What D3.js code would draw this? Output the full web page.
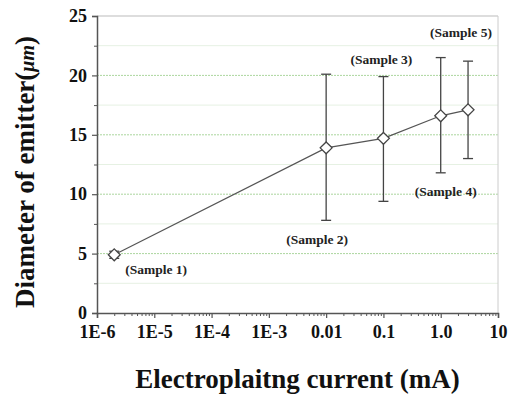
<!DOCTYPE html>
<html>
<head>
<meta charset="utf-8">
<script src="https://cdn.jsdelivr.net/npm/d3@7"></script>
<style>
  body { margin: 0; background: #fff; }
  text { font-family: "Liberation Serif", "Times New Roman", serif; font-weight: bold; }
</style>
</head>
<body>
<div id="chart"></div>
<script>
// data
const current = [2e-6, 0.01, 0.1, 1.0, 3.0];
const diameter = [4.9, 13.9, 14.7, 16.6, 17.1];
const errLow = [4.6, 7.8, 9.4, 11.8, 13.0];
const errHigh = [5.2, 20.1, 19.9, 21.5, 21.2];
const sampleNames = ["(Sample 1)", "(Sample 2)", "(Sample 3)", "(Sample 4)", "(Sample 5)"];
// label baselines in data units
const labelY = [3.3, 5.8, 21.0, 9.85, 23.2];
const labelDx = [11, -9, -2, 5, -7];
const xTicks = [1e-6, 1e-5, 1e-4, 1e-3, 0.01, 0.1, 1, 10];
const xTickLabels = ["1E-6", "1E-5", "1E-4", "1E-3", "0.01", "0.1", "1.0", "10"];
const yTicks = [0, 5, 10, 15, 20, 25];

const W = 510, H = 394;
const margin = { top: 16, right: 12, bottom: 81, left: 97 };
const width = W - margin.left - margin.right;
const height = H - margin.top - margin.bottom;

const svg = d3.select("#chart").append("svg")
  .attr("width", W).attr("height", H);

const g = svg.append("g")
  .attr("transform", "translate(" + margin.left + "," + margin.top + ")");

const x = d3.scaleLog().domain([1e-6, 10]).range([0, width]);
const y = d3.scaleLinear().domain([0, 25]).range([height, 0]);

// minor grid (faint)
g.selectAll(".minorgrid")
  .data(d3.range(2.5, 25, 5))
  .enter().append("line")
  .attr("x1", 0).attr("x2", width)
  .attr("y1", d => y(d)).attr("y2", d => y(d))
  .attr("stroke", "#e6f1e3").attr("stroke-width", 1);

// major grid (green dotted)
g.selectAll(".majorgrid")
  .data([5, 10, 15, 20])
  .enter().append("line")
  .attr("x1", 0).attr("x2", width)
  .attr("y1", d => y(d)).attr("y2", d => y(d))
  .attr("stroke", "#acd69e").attr("stroke-width", 1)
  .attr("stroke-dasharray", "2,1");

// frame top and right
g.append("line").attr("x1", 0).attr("x2", width).attr("y1", 0).attr("y2", 0)
  .attr("stroke", "#bbb").attr("stroke-width", 1.2);
g.append("line").attr("x1", width).attr("x2", width).attr("y1", 0).attr("y2", height)
  .attr("stroke", "#ccc").attr("stroke-width", 1);

const styleText = sel => sel.attr("font-size", 18).attr("fill", "#111")
  .attr("font-family", "Liberation Serif, serif").attr("font-weight", "bold");

// y axis
const yAxis = g.append("g")
  .call(d3.axisLeft(y).tickValues(yTicks).tickSize(5).tickPadding(5).tickFormat(d3.format("d")));
yAxis.select(".domain").attr("stroke", "#555").attr("stroke-width", 1.5);
yAxis.selectAll(".tick line").attr("stroke", "#555").attr("stroke-width", 1.2);
yAxis.selectAll(".tick text").call(styleText);
g.append("g")
  .call(d3.axisLeft(y).tickValues(d3.range(2.5, 25, 5)).tickSize(3).tickFormat(""))
  .call(s => s.select(".domain").remove())
  .selectAll(".tick line").attr("stroke", "#555");

// x axis
const minorX = [];
xTicks.slice(0, -1).forEach(t => { for (let k = 2; k <= 9; k++) minorX.push(t * k); });
g.append("g").attr("transform", "translate(0," + height + ")")
  .call(d3.axisBottom(x).tickValues(minorX).tickSize(3).tickFormat(""))
  .call(s => s.select(".domain").remove())
  .selectAll(".tick line").attr("stroke", "#555");
const xAxis = g.append("g").attr("transform", "translate(0," + height + ")")
  .call(d3.axisBottom(x).tickValues(xTicks).tickSize(5).tickPadding(7)
    .tickFormat((d, i) => xTickLabels[i]));
xAxis.select(".domain").attr("stroke", "#555").attr("stroke-width", 1.5);
xAxis.selectAll(".tick line").attr("stroke", "#555").attr("stroke-width", 1.2);
xAxis.selectAll(".tick text").call(styleText);

const pts = current.map((c, i) => ({ c, d: diameter[i], lo: errLow[i], hi: errHigh[i], i }));

// connecting line
g.append("path").datum(pts)
  .attr("d", d3.line().x(p => x(p.c)).y(p => y(p.d)))
  .attr("fill", "none").attr("stroke", "#555").attr("stroke-width", 1.2);

// error bars
const eb = g.selectAll(".err").data(pts).enter().append("g");
eb.append("line")
  .attr("x1", p => x(p.c)).attr("x2", p => x(p.c))
  .attr("y1", p => y(p.lo)).attr("y2", p => y(p.hi))
  .attr("stroke", "#444").attr("stroke-width", 1.3);
eb.selectAll(".cap").data(p => [[p.c, p.lo], [p.c, p.hi]]).enter().append("line")
  .attr("x1", q => x(q[0]) - 5).attr("x2", q => x(q[0]) + 5)
  .attr("y1", q => y(q[1])).attr("y2", q => y(q[1]))
  .attr("stroke", "#444").attr("stroke-width", 1.3);

// diamond markers
g.selectAll(".pt").data(pts).enter().append("path")
  .attr("transform", p => "translate(" + x(p.c) + "," + y(p.d) + ")")
  .attr("d", d3.symbol().type(d3.symbolDiamond2).size(90))
  .attr("fill", "#fff").attr("stroke", "#444").attr("stroke-width", 1.3);

// sample labels
g.selectAll(".lab").data(pts).enter().append("text")
  .attr("x", p => x(p.c) + labelDx[p.i])
  .attr("y", p => y(labelY[p.i]))
  .attr("text-anchor", p => p.i === 0 ? "start" : "middle")
  .attr("font-size", 13.5).attr("fill", "#222")
  .text(p => sampleNames[p.i]);

// axis titles
svg.append("text")
  .attr("x", margin.left + width / 2).attr("y", 388)
  .attr("text-anchor", "middle").attr("font-size", 27).attr("fill", "#111")
  .text("Electroplaitng current (mA)");
const yt = svg.append("text")
  .attr("transform", "translate(34," + 172 + ") rotate(-90)")
  .attr("text-anchor", "middle").attr("font-size", 27).attr("fill", "#111");
yt.append("tspan").text("Diameter of emitter(");
yt.append("tspan").attr("font-style", "italic").attr("font-size", 20).text("μm");
yt.append("tspan").text(")");
</script>
</body>
</html>
